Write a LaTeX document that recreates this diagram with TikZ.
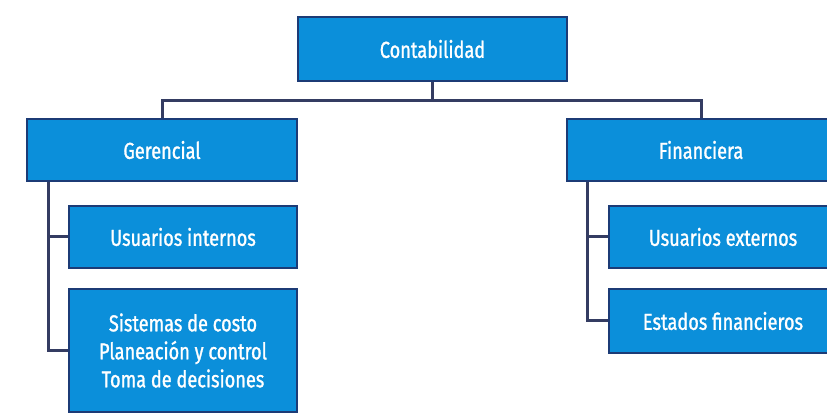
\documentclass[tikz,border=0pt]{standalone}
\usepackage{fontspec}
\setmainfont{Fira Sans}[FakeStretch=0.79, FakeBold=1.2]
\definecolor{boxfill}{HTML}{0B8FDA}
\definecolor{boxedge}{HTML}{1C3B76}
\definecolor{linec}{HTML}{343C62}
\tikzset{
  blk/.style={draw=boxedge, fill=boxfill, line width=2.4pt, text=white,
    font=\fontsize{23}{28}\selectfont, align=center, inner sep=0pt},
  conn/.style={draw=linec, line width=3pt}
}
\begin{document}
\begin{tikzpicture}[x=1pt,y=-1pt]
\clip (0,0) rectangle (827,419);
\fill[white] (0,0) rectangle (827,419);
\node[blk, minimum width=269pt, minimum height=64pt] (cont) at (432.5,49) {Contabilidad};
\node[blk, minimum width=270pt, minimum height=62pt] (ger) at (162,150) {Gerencial};
\node[blk, minimum width=268pt, minimum height=62pt] (fin) at (701,150) {Financiera};
\node[blk, minimum width=228pt, minimum height=62pt] (ui) at (183,237) {Usuarios internos};
\node[blk, minimum width=228pt, minimum height=123pt] (sis) at (183,350.5) {Sistemas de costo\\Planeación y control\\Toma de decisiones};
\node[blk, minimum width=228pt, minimum height=62pt] (ue) at (723,237) {Usuarios externos};
\node[blk, minimum width=228pt, minimum height=64pt] (ef) at (723,321) {Estados financieros};
\coordinate (gl) at (48,182);
\coordinate (fl) at (587,182);
\draw[conn] (cont.south) -- ++(0,18) -| (ger.north);
\draw[conn] (cont.south) -- ++(0,18) -| (fin.north);
\draw[conn] (gl) |- (ui.west);
\draw[conn] (gl) |- (sis.west);
\draw[conn] (fl) |- (ue.west);
\draw[conn] (fl) |- (ef.west);
\end{tikzpicture}
\end{document}
